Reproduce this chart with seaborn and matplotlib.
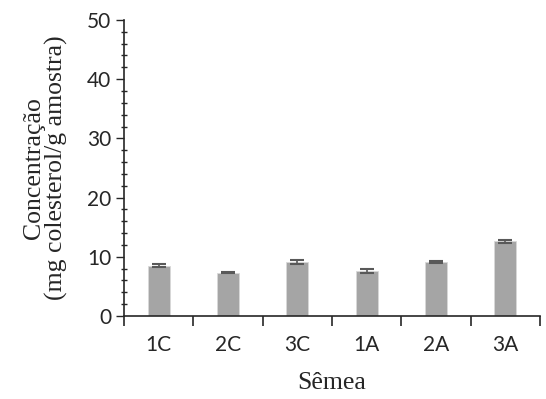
import numpy as np
import pandas as pd
import seaborn as sns
import matplotlib.pyplot as plt
from matplotlib.ticker import MultipleLocator, FixedLocator

# data
samples = ['1C', '2C', '3C', '1A', '2A', '3A']
conc = [8.5, 7.3, 9.1, 7.6, 9.1, 12.6]
err = [0.2, 0.1, 0.4, 0.4, 0.15, 0.2]

df = pd.DataFrame({'Sêmea': samples, 'conc': conc})

sns.set_style('ticks')
plt.rcParams['font.family'] = ['Lato', 'DejaVu Sans']

fig = plt.figure(figsize=(5.46, 3.99), dpi=100)
ax = fig.add_axes([0.227, 0.208, 0.762, 0.742])

sns.barplot(data=df, x='Sêmea', y='conc', color='#A5A5A5', saturation=1,
            width=0.32, ax=ax, edgecolor='#D9D9D9', linewidth=0.6)
ax.errorbar(range(len(samples)), conc, yerr=err, fmt='none',
            ecolor='#595959', elinewidth=1.2, capsize=5, capthick=1.5)

ax.set_ylim(0, 50)
ax.set_xlim(-0.5, len(samples) - 0.5)
ax.yaxis.set_major_locator(MultipleLocator(10))
ax.yaxis.set_minor_locator(MultipleLocator(2))
ax.xaxis.set_minor_locator(FixedLocator(np.arange(-0.5, len(samples), 1)))

ax.tick_params(axis='y', which='major', direction='out', length=6, width=1,
               labelsize=15, pad=3)
ax.tick_params(axis='y', which='minor', direction='inout', length=5, width=1)
ax.tick_params(axis='x', which='major', length=0, labelsize=15, pad=14)
ax.tick_params(axis='x', which='minor', direction='out', length=7, width=1.2)

for s in ['top', 'right']:
    ax.spines[s].set_visible(False)
for s in ['left', 'bottom']:
    ax.spines[s].set_linewidth(1.2)

ax.set_xlabel('Sêmea', fontsize=18.5, family='Liberation Serif', labelpad=12)
ax.set_ylabel('Concentração\n(mg colesterol/g amostra)', fontsize=18.5,
              family='Liberation Serif', labelpad=14, linespacing=1.0)

fig.savefig('out.png', dpi=100)
